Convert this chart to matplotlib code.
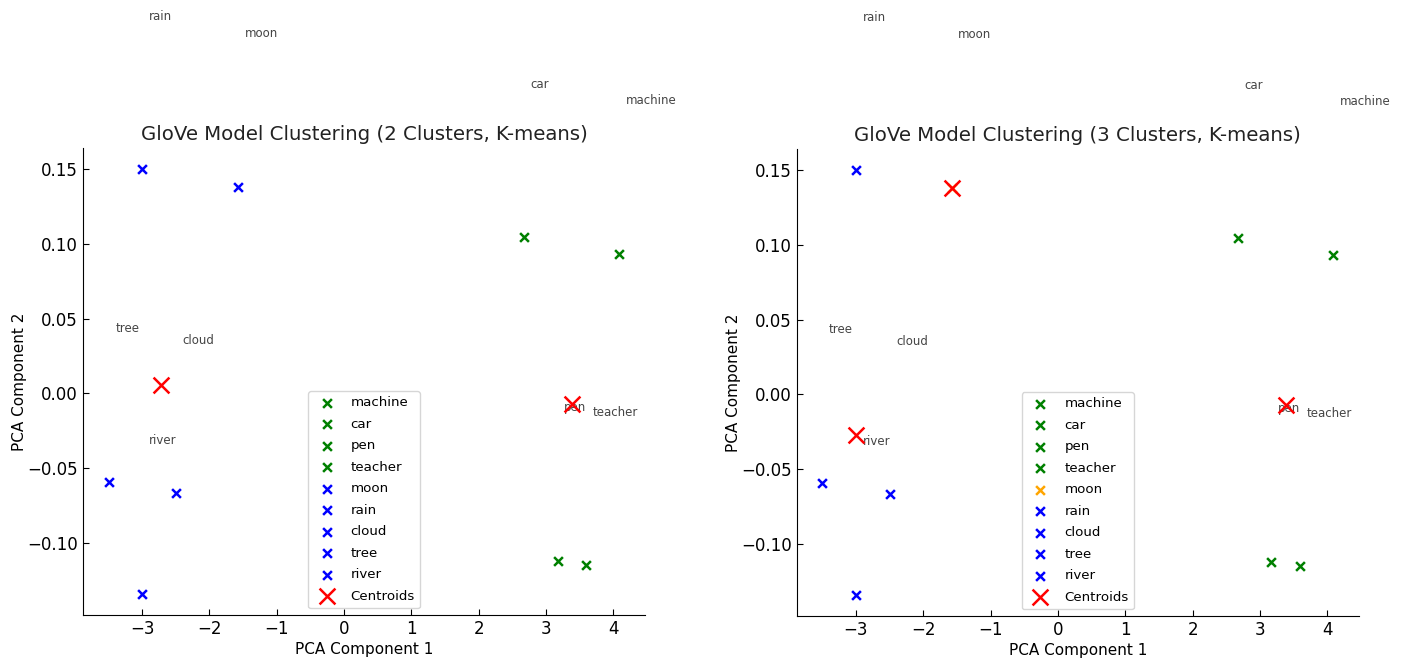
import matplotlib
matplotlib.use("Agg")
import matplotlib.pyplot as plt
import numpy as np

# words and their 2D PCA coordinates
words = ["machine", "car", "pen", "teacher", "moon", "rain", "cloud", "tree", "river"]
pca_x = [4.09, 2.67, 3.17, 3.59, -1.58, -3.00, -2.50, -3.50, -3.00]
pca_y = [0.0934, 0.1045, -0.1118, -0.1150, 0.1382, 0.1500, -0.0668, -0.0590, -0.1340]

# cluster assignments
labels_2 = [0, 0, 0, 0, 1, 1, 1, 1, 1]
labels_3 = [0, 0, 0, 0, 2, 1, 1, 1, 1]

colors_2 = ["green", "blue"]
colors_3 = ["green", "blue", "orange"]


def plot_clusters(ax, labels, colors, n_clusters):
    x = np.array(pca_x)
    y = np.array(pca_y)
    lab = np.array(labels)
    for i, w in enumerate(words):
        ax.scatter(x[i], y[i], marker="x", color=colors[labels[i]], s=40,
                   linewidths=1.8, label=w)
        ax.text(x[i] + 0.1, y[i] + 0.1, w, fontsize=8.5, color="#444444")
    # centroids = mean of each cluster
    cx = [x[lab == k].mean() for k in range(n_clusters)]
    cy = [y[lab == k].mean() for k in range(n_clusters)]
    ax.scatter(cx, cy, marker="x", color="red", s=130, linewidths=1.8,
               label="Centroids", zorder=4)
    ax.set_title(f"GloVe Model Clustering ({n_clusters} Clusters, K-means)",
                 fontsize=14.2, color="#222222")
    ax.set_xlabel("PCA Component 1", fontsize=11, labelpad=3)
    ax.set_ylabel("PCA Component 2", fontsize=11, labelpad=0)
    ax.spines["top"].set_visible(False)
    ax.spines["right"].set_visible(False)
    ax.tick_params(direction="in", labelsize=12, length=4)
    ax.set_xticks([-3, -2, -1, 0, 1, 2, 3, 4])
    ax.set_yticks([-0.10, -0.05, 0.00, 0.05, 0.10, 0.15])
    ax.legend(loc="lower center", fontsize=9.6, labelspacing=0.64)


fig = plt.figure(figsize=(14.04, 6.63), dpi=100)
ax1 = fig.add_axes([0.0591, 0.0724, 0.4003, 0.7044])
ax2 = fig.add_axes([0.5674, 0.0709, 0.4005, 0.7044])

plot_clusters(ax1, labels_2, colors_2, 2)
plot_clusters(ax2, labels_3, colors_3, 3)

fig.savefig("out.png", dpi=100)
